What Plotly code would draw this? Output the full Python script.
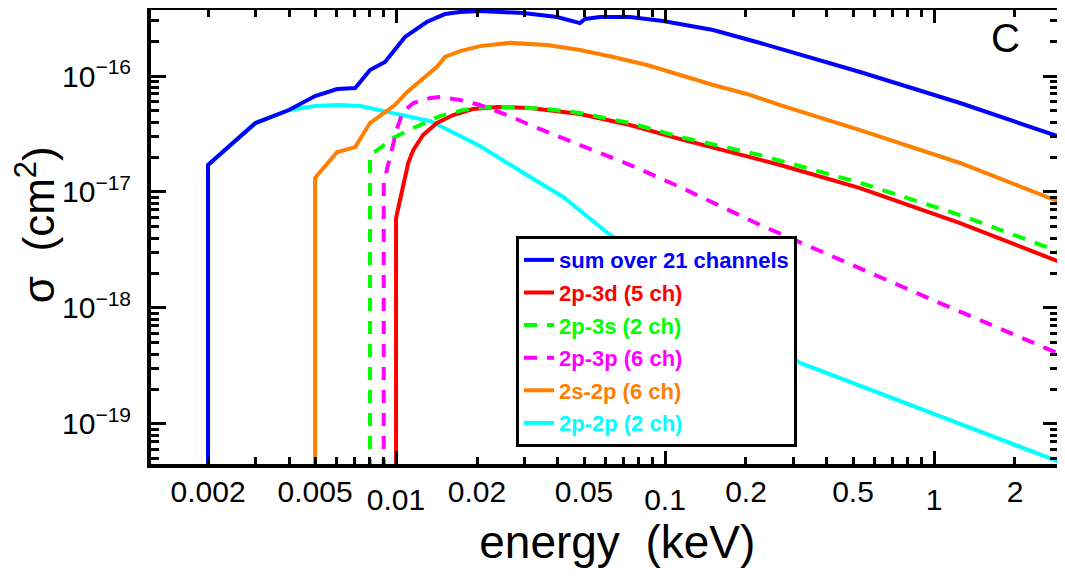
import plotly.graph_objects as go

# ---------------- data (energy in keV, cross section in cm^2) ----------------
# values at threshold are set far below the axis to draw the vertical onset
e_sum = [0.002, 0.002, 0.003, 0.004, 0.005, 0.00604, 0.00705, 0.008, 0.0091, 0.0108,
         0.0130, 0.0142, 0.0152, 0.0173, 0.0205, 0.0297, 0.0397, 0.0483, 0.0504, 0.0573,
         0.0741, 0.0983, 0.151, 0.226, 0.531, 1.25, 2.94]
s_sum = [1e-21, 1.71e-17, 3.93e-17, 5.09e-17, 6.72e-17, 7.72e-17, 7.88e-17, 1.126e-16, 1.32e-16, 2.17e-16,
         2.92e-16, 3.16e-16, 3.42e-16, 3.56e-16, 3.63e-16, 3.49e-16, 3.225e-16, 2.86e-16, 3.10e-16, 3.225e-16,
         3.225e-16, 2.98e-16, 2.49e-16, 1.925e-16, 1.083e-16, 5.85e-17, 2.98e-17]

e_3d = [0.01, 0.01, 0.0111, 0.0116, 0.0126, 0.0142, 0.0163, 0.0193, 0.0238, 0.0315,
        0.0483, 0.0741, 0.114, 0.174, 0.268, 0.531, 1.25, 2.94]
s_3d = [1e-21, 5.97e-18, 1.78e-17, 2.30e-17, 3.10e-17, 3.93e-17, 4.61e-17, 5.19e-17, 5.40e-17, 5.30e-17,
        4.70e-17, 3.78e-17, 2.86e-17, 2.21e-17, 1.71e-17, 1.08e-17, 5.40e-18, 2.49e-18]

e_3s = [0.008, 0.008, 0.00872, 0.00975, 0.0116, 0.0146, 0.0178, 0.0218, 0.0272, 0.0364,
        0.0483, 0.0741, 0.114, 0.174, 0.226, 0.531, 1.25, 2.94]
s_3s = [1e-21, 2.08e-17, 2.39e-17, 2.92e-17, 3.56e-17, 4.52e-17, 5.09e-17, 5.40e-17, 5.40e-17, 5.19e-17,
        4.80e-17, 3.93e-17, 2.98e-17, 2.39e-17, 2.08e-17, 1.20e-17, 6.33e-18, 3.04e-18]

e_3p = [0.009, 0.009, 0.00934, 0.00975, 0.0101, 0.0106, 0.0116, 0.0134, 0.0146, 0.0173,
        0.0205, 0.0259, 0.0315, 0.0483, 0.0741, 0.114, 0.226, 0.669, 0.99, 2.94]
s_3p = [1e-21, 1.2e-17, 1.71e-17, 2.54e-17, 3.56e-17, 4.89e-17, 5.85e-17, 6.46e-17, 6.59e-17, 6.21e-17,
        5.62e-17, 4.61e-17, 3.78e-17, 2.54e-17, 1.71e-17, 1.10e-17, 5.19e-18, 1.74e-18, 1.17e-18, 4.0e-19]

e_2s = [0.005, 0.005, 0.00604, 0.00705, 0.008, 0.0099, 0.011, 0.0130, 0.0142, 0.0152,
        0.0173, 0.0205, 0.0265, 0.0364, 0.0483, 0.0641, 0.0857, 0.114, 0.151, 0.2017,
        0.268, 0.531, 1.25, 2.94]
s_2s = [1e-21, 1.32e-17, 2.21e-17, 2.44e-17, 3.93e-17, 5.62e-17, 7.28e-17, 1.02e-16, 1.20e-16, 1.46e-16,
        1.64e-16, 1.81e-16, 1.93e-16, 1.85e-16, 1.675e-16, 1.46e-16, 1.244e-16, 1.02e-16, 8.36e-17, 7.0e-17,
        5.62e-17, 3.42e-17, 1.778e-17, 8.2e-18]

e_2p = [0.002, 0.002, 0.003, 0.004, 0.005, 0.0061, 0.00735, 0.00926, 0.011, 0.0134,
        0.0146, 0.0205, 0.0315, 0.0418, 0.0625, 0.0958, 0.147, 0.226, 0.318, 2.94]
s_2p = [1e-21, 1.71e-17, 3.93e-17, 5.09e-17, 5.51e-17, 5.62e-17, 5.51e-17, 4.89e-17, 4.52e-17, 4.09e-17,
        3.71e-17, 2.49e-17, 1.346e-17, 9.06e-18, 4.26e-18, 2.04e-18, 1.04e-18, 5.51e-19, 3.36e-19, 4.70e-20]

labels = ["sum over 21 channels", "2p-3d (5 ch)", "2p-3s (2 ch)",
          "2p-3p (6 ch)", "2s-2p (6 ch)", "2p-2p (2 ch)"]
colors = ["#0000ff", "#ff0000", "#00ff00", "#ff00ff", "#ff8000", "#00ffff"]

# tick labels
label_vals = [0.002, 0.005, 0.02, 0.05, 0.2, 0.5, 2]
label_text = ["0.002", "0.005", "0.02", "0.05", "0.2", "0.5", "2"]
decade_vals = [0.01, 0.1, 1]
decade_text = ["0.01", "0.1", "1"]
y_tick_vals = [1e-19, 1e-18, 1e-17, 1e-16]
y_tick_text = ["10<sup>−19</sup>", "10<sup>−18</sup>", "10<sup>−17</sup>", "10<sup>−16</sup>"]
x_minor_vals = [m * 10.0 ** p for p in (-3, -2, -1, 0) for m in range(2, 10)]
y_minor_vals = [m * 10.0 ** p for p in (-20, -19, -18, -17, -16) for m in range(2, 10)]

NB = "\u00a0"
x_title = "<span>" + NB * 2 + "</span>energy" + NB * 2 + "(keV)"
y_title = "<span>" + NB * 2 + "</span>σ" + NB * 2 + "(cm<sup>2</sup>)"

# ---------------- figure ----------------
series = [
    (e_2p, s_2p, 5, "solid", "x"),
    (e_2s, s_2s, 4, "solid", "x"),
    (e_3d, s_3d, 1, "solid", "x"),
    (e_3s, s_3s, 2, "13px,10px", "x"),
    (e_3p, s_3p, 3, "13px,10px", "x"),
    (e_sum, s_sum, 0, "solid", "x2"),
]

fig = go.Figure()
for ex, sy, idx, dash, xa in series:
    fig.add_trace(go.Scatter(
        x=ex, y=sy, mode="lines", xaxis=xa, yaxis="y",
        name=f'<span style="color:{colors[idx]}">{labels[idx]}</span>',
        line=dict(color=colors[idx], width=4, dash=dash),
        legendrank=idx + 1,
        legendgroup=str(idx),
    ))

FONT = "Liberation Sans, Arial, sans-serif"
XR = [-2.911, 0.461]
YR = [-19.345, -15.431]

fig.update_layout(
    # the page body adds an 8 px offset; the figure is sized to fill the window
    width=1057, height=569,
    margin=dict(l=143, r=7, t=2, b=113),
    paper_bgcolor="white", plot_bgcolor="white",
    font=dict(family=FONT, color="black"),
    showlegend=True,
    legend=dict(
        x=0.4024, y=0.502, xanchor="left", yanchor="top",
        bgcolor="white", bordercolor="black", borderwidth=3,
        font=dict(family=FONT, size=22, weight="bold"),
        tracegroupgap=1, traceorder="grouped",
    ),
    xaxis=dict(
        type="log", range=XR, automargin=False,
        showline=True, linecolor="black", linewidth=4, mirror="ticks",
        showgrid=False, zeroline=False,
        tickmode="array", tickvals=decade_vals, ticktext=decade_text,
        ticks="inside", ticklen=13, tickwidth=3, tickcolor="black",
        tickfont=dict(size=30), ticklabelstandoff=6,
        minor=dict(tickmode="array", tickvals=x_minor_vals, ticks="inside", ticklen=7,
                   tickwidth=3, tickcolor="black", showgrid=False),
        title=dict(text=x_title, font=dict(size=46), standoff=2),
    ),
    xaxis2=dict(
        type="log", range=XR, overlaying="x", anchor="y", side="bottom", automargin=False,
        showline=False, mirror="ticks", showgrid=False, zeroline=False,
        tickmode="array", tickvals=label_vals, ticktext=label_text,
        ticks="inside", ticklen=7, tickwidth=3, tickcolor="black",
        tickfont=dict(size=30), ticklabelstandoff=7,
    ),
    yaxis=dict(
        type="log", range=YR, automargin=False,
        showline=True, linecolor="black", linewidth=4, mirror="ticks",
        showgrid=False, zeroline=False,
        tickmode="array", tickvals=y_tick_vals, ticktext=y_tick_text,
        ticks="inside", ticklen=15, tickwidth=3, tickcolor="black",
        tickfont=dict(size=30), ticklabelstandoff=10,
        minor=dict(tickmode="array", tickvals=y_minor_vals, ticks="inside", ticklen=8,
                   tickwidth=3, tickcolor="black", showgrid=False),
        title=dict(text=y_title, font=dict(size=44), standoff=14),
    ),
    annotations=[dict(
        text="C", xref="paper", yref="paper", x=0.9416, y=0.938,
        xanchor="center", yanchor="middle",
        showarrow=False, font=dict(size=40, color="black"),
    )],
)

fig.write_html("out.html")
